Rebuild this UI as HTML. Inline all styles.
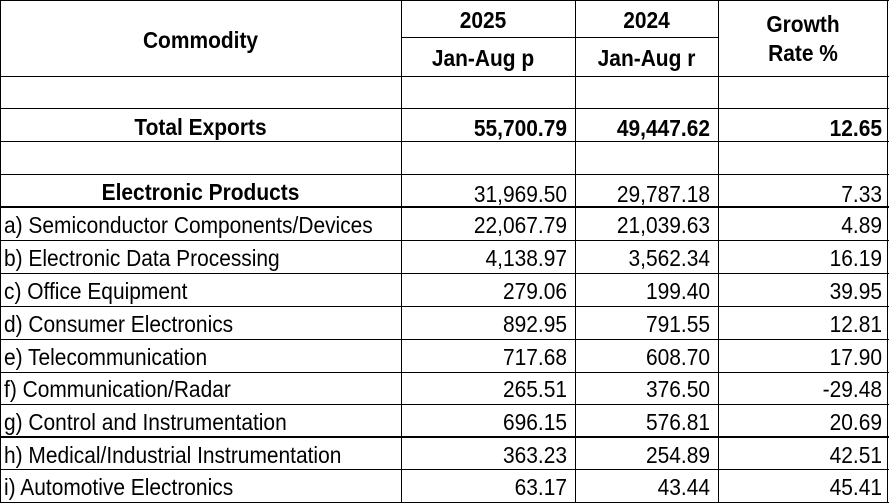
<!DOCTYPE html>
<html><head><style>
body{margin:0;width:889px;height:504px;background:#fff;position:relative;overflow:hidden;font-family:"Liberation Sans",Arial,sans-serif;font-size:23px;color:#000}
.h{position:absolute;left:0;width:889px;height:1px;background:#000}
.v{position:absolute;top:0;width:1px;background:#000}
.t{position:absolute;white-space:nowrap;line-height:20px;transform:scaleX(0.91);transform-origin:left center}
.b{font-weight:bold}
.r{text-align:right;transform-origin:right center}
.c{text-align:center;transform-origin:center center}
</style></head><body>
<div class="h" style="top:0"></div>
<div class="h" style="top:37px;left:401px;width:317px"></div>
<div class="h" style="top:76px"></div>
<div class="h" style="top:108px"></div>
<div class="h" style="top:141px"></div>
<div class="h" style="top:174px"></div>
<div class="h" style="top:206px;height:2px"></div>
<div class="h" style="top:240px"></div>
<div class="h" style="top:273px"></div>
<div class="h" style="top:306px"></div>
<div class="h" style="top:339px"></div>
<div class="h" style="top:372px"></div>
<div class="h" style="top:404px"></div>
<div class="h" style="top:436px;height:2px"></div>
<div class="h" style="top:469px"></div>
<div class="h" style="top:502px"></div>
<div class="v" style="left:0;height:503px"></div>
<div class="v" style="left:401px;height:503px"></div>
<div class="v" style="left:575px;height:503px"></div>
<div class="v" style="left:718px;height:503px"></div>
<div class="v" style="left:887px;height:503px"></div>

<div class="t b c" style="left:0;width:401px;top:30px">Commodity</div>
<div class="t b c" style="left:401px;width:164px;top:10px">2025</div>
<div class="t b c" style="left:575px;width:143px;top:10px">2024</div>
<div class="t b c" style="left:401px;width:164px;top:48px">Jan-Aug p</div>
<div class="t b c" style="left:575px;width:143px;top:48px">Jan-Aug r</div>
<div class="t b c" style="left:718px;width:170px;top:14px">Growth</div>
<div class="t b c" style="left:718px;width:170px;top:43px">Rate %</div>

<div class="t b c" style="left:0;width:401px;top:117px">Total Exports</div>
<div class="t b r" style="left:401px;width:166px;top:118px">55,700.79</div>
<div class="t b r" style="left:575px;width:135px;top:118px">49,447.62</div>
<div class="t b r" style="left:718px;width:164px;top:118px">12.65</div>

<div class="t b c" style="left:0;width:401px;top:182px">Electronic Products</div>
<div class="t r" style="left:401px;width:166px;top:184px">31,969.50</div>
<div class="t r" style="left:575px;width:135px;top:184px">29,787.18</div>
<div class="t r" style="left:718px;width:164px;top:184px">7.33</div>

<div class="t" style="left:4px;top:215px">a) Semiconductor Components/Devices</div>
<div class="t r" style="left:401px;width:166px;top:215px">22,067.79</div>
<div class="t r" style="left:575px;width:135px;top:215px">21,039.63</div>
<div class="t r" style="left:718px;width:164px;top:215px">4.89</div>

<div class="t" style="left:4px;top:248px">b) Electronic Data Processing</div>
<div class="t r" style="left:401px;width:166px;top:248px">4,138.97</div>
<div class="t r" style="left:575px;width:135px;top:248px">3,562.34</div>
<div class="t r" style="left:718px;width:164px;top:248px">16.19</div>

<div class="t" style="left:4px;top:281px">c) Office Equipment</div>
<div class="t r" style="left:401px;width:166px;top:281px">279.06</div>
<div class="t r" style="left:575px;width:135px;top:281px">199.40</div>
<div class="t r" style="left:718px;width:164px;top:281px">39.95</div>

<div class="t" style="left:4px;top:314px">d) Consumer Electronics</div>
<div class="t r" style="left:401px;width:166px;top:314px">892.95</div>
<div class="t r" style="left:575px;width:135px;top:314px">791.55</div>
<div class="t r" style="left:718px;width:164px;top:314px">12.81</div>

<div class="t" style="left:4px;top:347px">e) Telecommunication</div>
<div class="t r" style="left:401px;width:166px;top:347px">717.68</div>
<div class="t r" style="left:575px;width:135px;top:347px">608.70</div>
<div class="t r" style="left:718px;width:164px;top:347px">17.90</div>

<div class="t" style="left:4px;top:379px">f) Communication/Radar</div>
<div class="t r" style="left:401px;width:166px;top:379px">265.51</div>
<div class="t r" style="left:575px;width:135px;top:379px">376.50</div>
<div class="t r" style="left:718px;width:164px;top:379px">-29.48</div>

<div class="t" style="left:4px;top:412px">g) Control and Instrumentation</div>
<div class="t r" style="left:401px;width:166px;top:412px">696.15</div>
<div class="t r" style="left:575px;width:135px;top:412px">576.81</div>
<div class="t r" style="left:718px;width:164px;top:412px">20.69</div>

<div class="t" style="left:4px;top:445px">h) Medical/Industrial Instrumentation</div>
<div class="t r" style="left:401px;width:166px;top:445px">363.23</div>
<div class="t r" style="left:575px;width:135px;top:445px">254.89</div>
<div class="t r" style="left:718px;width:164px;top:445px">42.51</div>

<div class="t" style="left:4px;top:477px">i) Automotive Electronics</div>
<div class="t r" style="left:401px;width:166px;top:477px">63.17</div>
<div class="t r" style="left:575px;width:135px;top:477px">43.44</div>
<div class="t r" style="left:718px;width:164px;top:477px">45.41</div>
</body></html>
